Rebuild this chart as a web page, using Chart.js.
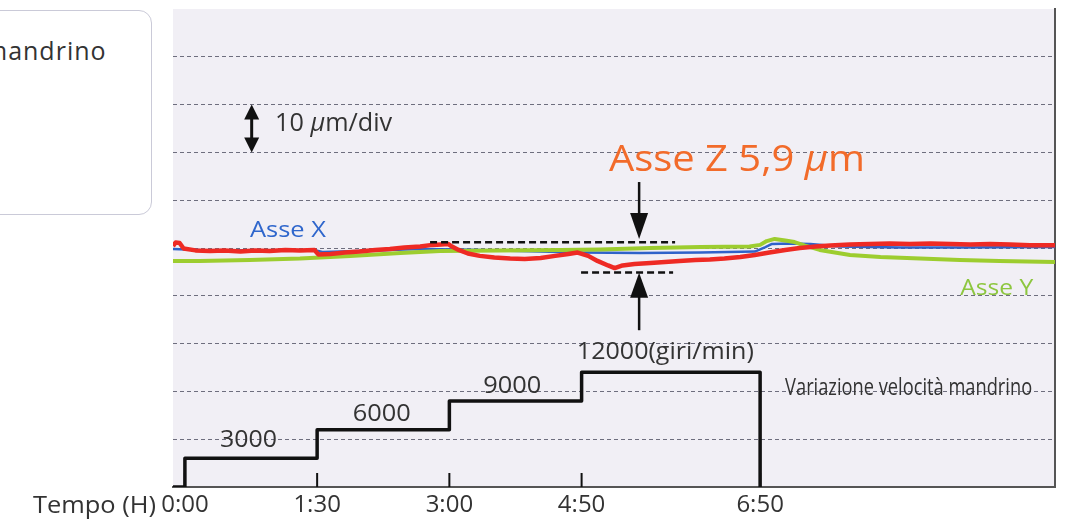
<!DOCTYPE html>
<html><head><meta charset="utf-8">
<script src="https://cdn.jsdelivr.net/npm/chart.js@4.4.0/dist/chart.umd.min.js"></script>
<style>
html,body{margin:0;padding:0;background:#fff;width:1065px;height:522px;overflow:hidden;}
#wrap{position:relative;width:1065px;height:522px;}
#box{position:absolute;left:-20px;top:10px;width:172px;height:205px;border:1px solid #cacad8;border-radius:13px;background:#fff;box-sizing:border-box;}
#boxtxt{position:absolute;left:-16px;top:33px;font-family:'Open Sans';font-size:25px;letter-spacing:1px;color:#333;white-space:nowrap;}
canvas{position:absolute;left:0;top:0;}
</style></head>
<body><div id="wrap"><div id="box"></div><div id="boxtxt">mandrino</div><canvas id="c" width="1065" height="522"></canvas></div>
<script>
// ---- data ----
const tickPositions = [0, 1, 2, 3, 4.35];
const tickLabels = ['0:00', '1:30', '3:00', '4:50', '6:50'];

const speedX   = [-0.09, 0, 1, 2, 3, 4.35];
const speedRpm = [0, 3000, 6000, 9000, 12000, 0];

const zX  = [-0.09,-0.07,-0.04,-0.01,0.08,0.19,0.30,0.42,0.53,0.64,0.76,0.87,0.98,1.01,1.10,1.21,1.32,1.44,1.55,1.66,1.78,1.87,1.94,1.99,2.02,2.07,2.14,2.23,2.34,2.46,2.57,2.69,2.80,2.90,2.97,3.05,3.12,3.20,3.25,3.31,3.40,3.52,3.63,3.74,3.86,3.97,4.08,4.20,4.31,4.42,4.54,4.65,4.77,4.88,5.03,5.18,5.33,5.48,5.64,5.79,5.94,6.09,6.24,6.39,6.58];
const zUm = [0.4,1.15,1.05,-0.1,-0.5,-0.65,-0.5,-0.75,-0.5,-0.65,-0.4,-0.5,-0.4,-1.35,-1.25,-0.95,-0.75,-0.4,-0.2,0.1,0.3,0.65,0.75,0.85,0.3,-0.4,-1.15,-1.65,-2.0,-2.2,-2.3,-2.1,-1.65,-1.25,-0.95,-1.65,-2.7,-3.65,-4.2,-3.65,-3.35,-3.15,-2.95,-2.7,-2.5,-2.4,-2.2,-1.9,-1.45,-0.95,-0.4,0,0.3,0.5,0.75,0.85,0.95,0.85,0.95,0.85,0.75,0.85,0.75,0.6,0.6];

const yAxX  = [-0.09,0.11,0.49,0.87,1.25,1.63,1.93,2.38,2.84,3.14,3.52,3.90,4.27,4.35,4.40,4.46,4.54,4.61,4.69,4.80,5.03,5.26,5.56,5.86,6.16,6.58];
const yAxUm = [-2.7,-2.7,-2.5,-2.2,-1.65,-1.05,-0.65,-0.5,-0.4,-0.3,0,0.2,0.3,0.65,1.45,1.9,1.55,1.25,0.5,-0.4,-1.45,-1.9,-2.2,-2.5,-2.7,-2.95];

const xAxX  = [-0.09,0.11,0.57,0.99,1.04,1.32,1.78,2.08,2.53,2.99,3.44,3.90,4.31,4.39,4.44,4.58,4.73,4.95,5.41,5.86,6.58];
const xAxUm = [-0.2,-0.4,-0.5,-0.5,-0.85,-0.65,-0.2,-0.3,-0.65,-0.95,-1.05,-0.95,-0.75,0.2,0.85,0.95,0.85,0.3,0.1,0.1,0.2];

const zip = (xs, ys) => xs.map((x, i) => ({x: x, y: ys[i]}));
const FONT = "'Open Sans'";

function drawRich(ctx, segs, x, y, size, color, targetW) {
  ctx.save();
  ctx.fillStyle = color; ctx.textBaseline = 'alphabetic'; ctx.textAlign = 'left';
  const fonts = segs.map(s => (s.i ? 'italic ' : '') + size + 'px ' + FONT);
  let w = 0;
  segs.forEach((s, k) => { ctx.font = fonts[k]; w += ctx.measureText(s.t).width; });
  const sx = targetW ? targetW / w : 1;
  ctx.translate(x, y); ctx.scale(sx, 1);
  let cx = 0;
  segs.forEach((s, k) => { ctx.font = fonts[k]; ctx.fillText(s.t, cx, 0); cx += ctx.measureText(s.t).width; });
  ctx.restore();
}
function head(ctx, x, tipY, dir, h, w) {
  ctx.beginPath();
  ctx.moveTo(x, tipY);
  ctx.lineTo(x - w / 2, tipY - dir * h);
  ctx.lineTo(x + w / 2, tipY - dir * h);
  ctx.closePath(); ctx.fill();
}

const textItems = [
  {segs: [{t: '10 '}, {t: 'μ', i: true}, {t: 'm/div'}], x: 0.682, y: 24.5, size: 26, color: '#333', w: 117},
  {segs: [{t: 'Asse X'}], x: 0.492, y: 2.24, size: 22, color: '#2f66cc', w: 76},
  {segs: [{t: 'Asse Y'}], x: 5.863, y: -9.8, size: 22, color: '#8dc63f', w: 73},
  {segs: [{t: 'Asse Z 5,9 '}, {t: 'μ', i: true}, {t: 'm'}], x: 3.207, y: 16.1, size: 36, color: '#f26b2a', w: 256},
  {segs: [{t: '3000'}], x: 0.266, y: -41.6, size: 24, color: '#333', w: 57},
  {segs: [{t: '6000'}], x: 1.269, y: -36.1, size: 24, color: '#333', w: 58},
  {segs: [{t: '9000'}], x: 2.257, y: -30.3, size: 24, color: '#333', w: 58},
  {segs: [{t: '12000(giri/min)'}], x: 2.964, y: -23.3, size: 24, color: '#333', w: 177},
  {segs: [{t: 'Variazione velocità mandrino'}], x: 4.539, y: -30.75, size: 24, color: '#333', w: 247}
];

const annot = {
  id: 'annot',
  beforeDraw(chart) {
    const {ctx, chartArea: a} = chart;
    ctx.save(); ctx.fillStyle = '#f1eff5';
    ctx.fillRect(a.left, a.top, a.right - a.left, a.bottom - a.top);
    ctx.restore();
  },
  afterDatasetsDraw(chart) {
    const {ctx, chartArea: a} = chart;
    const xs = chart.scales.x, ys = chart.scales.y;
    const X = v => xs.getPixelForValue(v), Y = v => ys.getPixelForValue(v);
    ctx.save();
    ctx.fillStyle = '#111'; ctx.strokeStyle = '#111';
    // inner tick marks
    ctx.lineWidth = 2;
    tickPositions.forEach(v => { ctx.beginPath(); ctx.moveTo(X(v), a.bottom - 14); ctx.lineTo(X(v), a.bottom); ctx.stroke(); });
    // 10 um/div double arrow
    const ax = X(0.505), t1 = Y(30), t2 = Y(20);
    ctx.lineWidth = 3;
    ctx.beginPath(); ctx.moveTo(ax, t1 + 10); ctx.lineTo(ax, t2 - 10); ctx.stroke();
    head(ctx, ax, t1, -1, 15, 15); head(ctx, ax, t2, 1, 15, 15);
    // Z arrows
    const zx = X(3.435);
    ctx.lineWidth = 2.5;
    ctx.beginPath(); ctx.moveTo(zx, Y(13.8)); ctx.lineTo(zx, Y(1.9) - 20); ctx.stroke();
    head(ctx, zx, Y(1.9), 1, 26, 18);
    ctx.beginPath(); ctx.moveTo(zx, Y(-17.2)); ctx.lineTo(zx, Y(-5.2) + 20); ctx.stroke();
    head(ctx, zx, Y(-5.2), -1, 25, 18);
    // dashed range lines
    ctx.setLineDash([7, 4]); ctx.lineWidth = 2.5;
    ctx.beginPath(); ctx.moveTo(X(1.854), Y(1.2)); ctx.lineTo(X(3.707), Y(1.2)); ctx.stroke();
    ctx.beginPath(); ctx.moveTo(X(2.996), Y(-5.1)); ctx.lineTo(X(3.692), Y(-5.1)); ctx.stroke();
    ctx.setLineDash([]);
    ctx.restore();
    textItems.forEach(it => drawRich(ctx, it.segs, X(it.x), Y(it.y), it.size, it.color, it.w));
    // axis title left of first tick label
    drawRich(ctx, [{t: 'Tempo (H)'}], X(tickPositions[0]) - 152, a.bottom + 26, 24, '#333', 123);
  }
};

new Chart(document.getElementById('c'), {
  type: 'line',
  data: {
    datasets: [
      {label: 'Asse Z', data: zip(zX, zUm), borderColor: '#ee2a24', borderWidth: 4.5, yAxisID: 'y', order: 1},
      {label: 'Asse Y', data: zip(yAxX, yAxUm), borderColor: '#9dcd2f', borderWidth: 4, yAxisID: 'y', order: 2},
      {label: 'Asse X', data: zip(xAxX, xAxUm), borderColor: '#2f62c9', borderWidth: 2.5, yAxisID: 'y', order: 3},
      {label: 'Velocità mandrino', data: zip(speedX, speedRpm), stepped: true, borderColor: '#111', borderWidth: 3.5, yAxisID: 'rpm', order: 4}
    ]
  },
  options: {
    responsive: false, animation: false, devicePixelRatio: 1,
    layout: {padding: {left: 173, right: 10, top: 9, bottom: 0}},
    plugins: {legend: {display: false}, tooltip: {enabled: false}},
    elements: {point: {radius: 0}, line: {tension: 0, borderJoinStyle: 'round', fill: false}},
    scales: {
      x: {
        type: 'linear', min: -0.09, max: 6.58,
        afterBuildTicks: s => { s.ticks = tickPositions.map(v => ({value: v})); },
        afterFit: s => { s.height = 35; },
        grid: {display: false, drawTicks: false},
        border: {display: true, color: '#555', width: 2},
        ticks: {padding: 4, color: '#333', font: {family: 'Open Sans', size: 24}, maxRotation: 0, autoSkip: false,
                callback: (v, i) => tickLabels[i]}
      },
      y: {
        position: 'left', min: -50, max: 50,
        ticks: {display: false, stepSize: 10},
        grid: {drawTicks: false, lineWidth: 1, color: c => (c.tick && c.tick.value === 50) ? 'rgba(0,0,0,0)' : '#6e6e7e'},
        border: {display: false, dash: [4, 3]}
      },
      rpm: {
        position: 'right', min: 0, max: 50000,
        ticks: {display: false},
        grid: {display: false, drawTicks: false},
        border: {display: true, color: '#555', width: 2}
      }
    }
  },
  plugins: [annot]
});
</script>
</body></html>
